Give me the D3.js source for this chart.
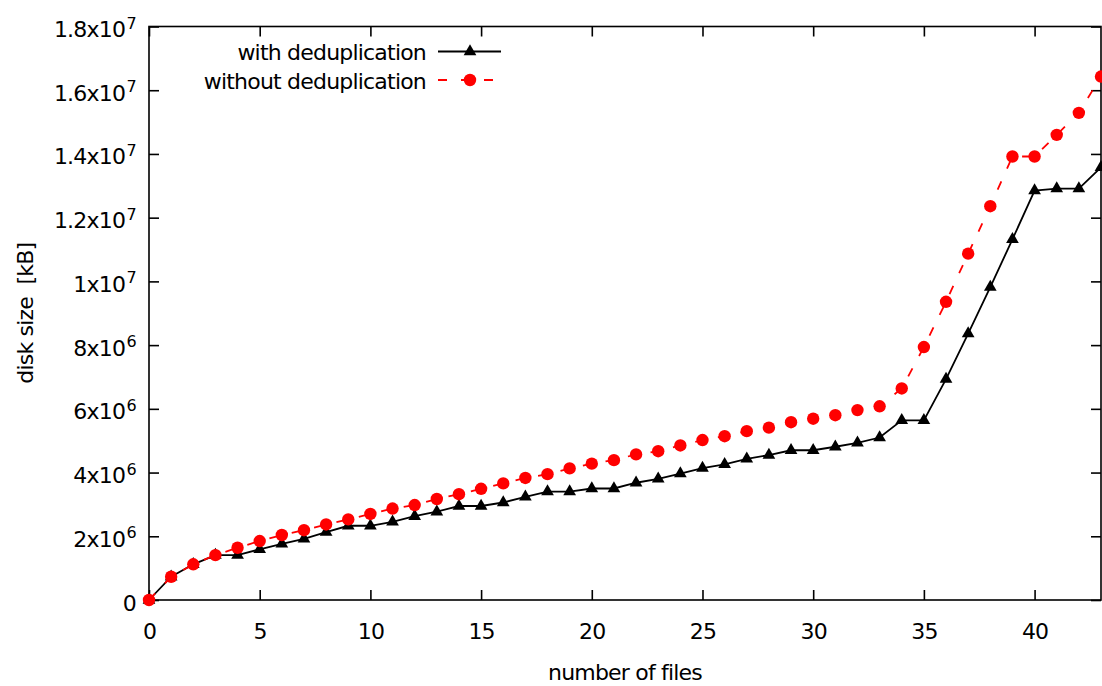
<!DOCTYPE html>
<html>
<head>
<meta charset="utf-8">
<script src="https://cdn.jsdelivr.net/npm/d3@7"></script>
<style>
  html, body { margin: 0; padding: 0; background: #fff; }
  svg { display: block; }
  text { font-family: "DejaVu Sans", Verdana, sans-serif; fill: #000; }
</style>
</head>
<body>
<svg id="chart" width="1102" height="686"></svg>
<script>
const files = d3.range(0, 44);
const withDedup = [0, 7.3e5, 1.12e6, 1.41e6, 1.41e6, 1.59e6, 1.76e6, 1.92e6, 2.13e6, 2.33e6,
  2.33e6, 2.45e6, 2.63e6, 2.77e6, 2.95e6, 2.95e6, 3.06e6, 3.24e6, 3.40e6, 3.40e6,
  3.50e6, 3.50e6, 3.68e6, 3.80e6, 3.97e6, 4.14e6, 4.26e6, 4.43e6, 4.55e6, 4.70e6,
  4.70e6, 4.81e6, 4.93e6, 5.10e6, 5.64e6, 5.64e6, 6.93e6, 8.36e6, 9.82e6, 1.132e7,
  1.285e7, 1.291e7, 1.291e7, 1.358e7];
const withoutDedup = [0, 7.3e5, 1.12e6, 1.41e6, 1.64e6, 1.85e6, 2.04e6, 2.19e6, 2.37e6, 2.53e6,
  2.70e6, 2.87e6, 2.98e6, 3.17e6, 3.32e6, 3.49e6, 3.66e6, 3.83e6, 3.95e6, 4.13e6,
  4.28e6, 4.39e6, 4.57e6, 4.67e6, 4.85e6, 5.02e6, 5.14e6, 5.30e6, 5.41e6, 5.58e6,
  5.69e6, 5.80e6, 5.96e6, 6.08e6, 6.64e6, 7.94e6, 9.36e6, 1.087e7, 1.236e7, 1.392e7,
  1.392e7, 1.460e7, 1.529e7, 1.643e7];
const xTicks = [0, 5, 10, 15, 20, 25, 30, 35, 40];
const yTicks = [0, 2e6, 4e6, 6e6, 8e6, 1e7, 1.2e7, 1.4e7, 1.6e7, 1.8e7];
const yTickBase = ["0", "2x10", "4x10", "6x10", "8x10", "1x10", "1.2x10", "1.4x10", "1.6x10", "1.8x10"];
const yTickExp = ["", "6", "6", "6", "6", "7", "7", "7", "7", "7"];
const seriesNames = ["with deduplication", "without deduplication"];
const xTitle = "number of files";
const yTitle = "disk size\u00a0\u00a0[kB]";

const svg = d3.select("#chart");
const L = 149, R = 1101, T = 26.5, B = 600;
const x = d3.scaleLinear().domain([0, 43]).range([L, R]);
const y = d3.scaleLinear().domain([0, 1.8e7]).range([B, T]);
const tickLen = 10;
const FS = 22, LS = "-0.8px";

// border
svg.append("rect").attr("x", L).attr("y", T).attr("width", R - L).attr("height", B - T)
  .attr("fill", "none").attr("stroke", "#000").attr("stroke-width", 1.6);

// x axis (bottom, ticks inward)
const xAxis = d3.axisBottom(x).tickValues(xTicks).tickSizeInner(-tickLen).tickSizeOuter(0).tickPadding(24);
const gx = svg.append("g").attr("transform", `translate(0,${B})`).call(xAxis);
gx.select(".domain").remove();
gx.selectAll(".tick line").attr("stroke", "#000").attr("stroke-width", 1.6);
gx.selectAll(".tick text").attr("font-size", FS).attr("letter-spacing", LS)
  .attr("font-family", "DejaVu Sans").attr("y", 38.5).attr("dy", 0).attr("fill", "#000");

// x axis top mirror ticks
const gxt = svg.append("g").attr("transform", `translate(0,${T})`)
  .call(d3.axisTop(x).tickValues(xTicks).tickSizeInner(-tickLen).tickSizeOuter(0).tickFormat(""));
gxt.select(".domain").remove();
gxt.selectAll(".tick line").attr("stroke", "#000").attr("stroke-width", 1.6);

// y axis left
const gy = svg.append("g").attr("transform", `translate(${L},0)`)
  .call(d3.axisLeft(y).tickValues(yTicks).tickSizeInner(-tickLen).tickSizeOuter(0).tickFormat(""));
gy.select(".domain").remove();
gy.selectAll(".tick line").attr("stroke", "#000").attr("stroke-width", 1.6);
gy.selectAll(".tick").each(function(d, i) {
  const t = d3.select(this).append("text")
    .attr("x", -13).attr("y", 10).attr("text-anchor", "end")
    .attr("font-size", FS).attr("letter-spacing", LS);
  t.append("tspan").text(yTickBase[i]);
  if (yTickExp[i]) {
    t.append("tspan").attr("font-size", 16).attr("dy", -8.5).attr("dx", 1.5).text(yTickExp[i]);
  }
});

// y axis right mirror ticks
const gyr = svg.append("g").attr("transform", `translate(${R},0)`)
  .call(d3.axisRight(y).tickValues(yTicks).tickSizeInner(-tickLen).tickSizeOuter(0).tickFormat(""));
gyr.select(".domain").remove();
gyr.selectAll(".tick line").attr("stroke", "#000").attr("stroke-width", 1.6);

// titles
svg.append("text").attr("x", (L + R) / 2).attr("y", 680).attr("text-anchor", "middle")
  .attr("font-size", FS).attr("letter-spacing", LS).text(xTitle);
svg.append("text").attr("transform", `translate(32.5,${(T + B) / 2}) rotate(-90)`)
  .attr("text-anchor", "middle").attr("font-size", FS).attr("letter-spacing", LS).text(yTitle);

// series
const line = d3.line().x((d, i) => x(files[i])).y(d => y(d));
const tri = d3.symbol().type(d3.symbolTriangle).size(70);

svg.append("path").datum(withDedup).attr("d", line)
  .attr("fill", "none").attr("stroke", "#000").attr("stroke-width", 1.8);
svg.append("g").selectAll("path").data(withDedup).join("path")
  .attr("d", tri).attr("transform", (d, i) => `translate(${x(files[i])},${y(d)})`).attr("fill", "#000");

svg.append("path").datum(withoutDedup).attr("d", line)
  .attr("fill", "none").attr("stroke", "#ff0000").attr("stroke-width", 1.8)
  .attr("stroke-dasharray", "9 14");
svg.append("g").selectAll("circle").data(withoutDedup).join("circle")
  .attr("cx", (d, i) => x(files[i])).attr("cy", d => y(d)).attr("r", 6.2).attr("fill", "#ff0000");

// legend
const leg = svg.append("g");
leg.append("text").attr("x", 426).attr("y", 60).attr("text-anchor", "end")
  .attr("font-size", FS).attr("letter-spacing", LS).text(seriesNames[0]);
leg.append("line").attr("x1", 438).attr("x2", 501).attr("y1", 51.5).attr("y2", 51.5)
  .attr("stroke", "#000").attr("stroke-width", 1.8);
leg.append("path").attr("d", tri).attr("transform", "translate(470,51.5)").attr("fill", "#000");

leg.append("text").attr("x", 426).attr("y", 88.5).attr("text-anchor", "end")
  .attr("font-size", FS).attr("letter-spacing", LS).text(seriesNames[1]);
leg.append("line").attr("x1", 438).attr("x2", 501).attr("y1", 80).attr("y2", 80)
  .attr("stroke", "#ff0000").attr("stroke-width", 1.8).attr("stroke-dasharray", "9 14");
leg.append("circle").attr("cx", 470).attr("cy", 80).attr("r", 6.2).attr("fill", "#ff0000");
</script>
</body>
</html>
